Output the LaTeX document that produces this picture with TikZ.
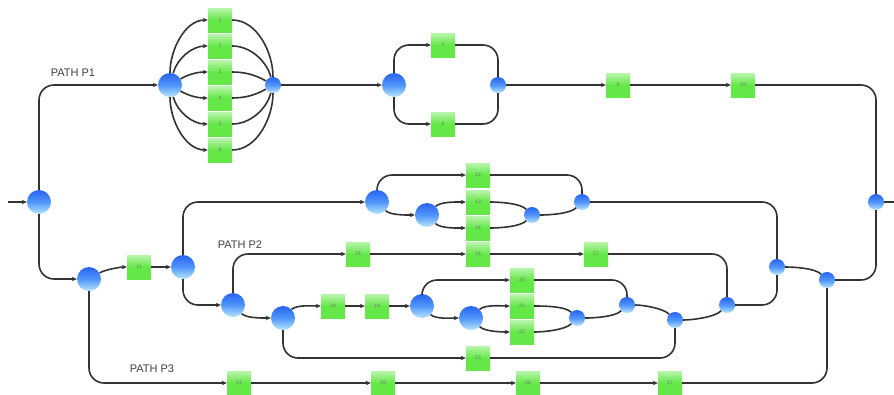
\documentclass[tikz,border=0pt]{standalone}
\usepackage{fontspec}
\setsansfont{Liberation Sans}
\usetikzlibrary{arrows.meta}

\begin{document}
\begin{tikzpicture}[x=1pt,y=1pt,
	splitnode/.style={circle,minimum size=24pt,inner sep=0pt,top color=ballTop,bottom color=ballBot,middle color=ballMid},
	joinnode/.style={splitnode,minimum size=16pt},
	tasknode/.style={rectangle,minimum width=24pt,minimum height=24pt,inner sep=0pt,top color=taskTop,bottom color=taskCol,middle color=taskCol,text=black!55,font=\sffamily\fontsize{5}{5}\selectfont},
	pathlabel/.style={font=\sffamily\fontsize{11}{11}\selectfont,text=black!75},
	flow/.style={line width=1.6pt,draw=black!80,rounded corners=15pt},
	arr/.style={flow,-{Stealth[length=5pt,width=4.5pt]}},
	up/.style={out=45,in=180,looseness=0.6},
	down/.style={out=-45,in=180,looseness=0.6},
	upin/.style={out=0,in=-135,looseness=0.6},
	downin/.style={out=0,in=135,looseness=0.6}]
			\definecolor{ballTop}{RGB}{40,100,240}
			\definecolor{ballMid}{RGB}{80,150,250}
			\definecolor{ballBot}{RGB}{185,230,255}
			\definecolor{taskCol}{RGB}{100,232,72}
			\colorlet{taskTop}{taskCol!45!white}
			
			\useasboundingbox (0,0) rectangle (894,-394);
			
			\coordinate (inA) at (8,-202);
			\coordinate (outZ) at (894,-202);
			
			\node[splitnode] (sA) at (39,-202) {};
			\node[splitnode] (s1) at (170,-85) {};
			\node[joinnode] (j1) at (273,-85) {};
			\node[splitnode] (s2) at (394,-85) {};
			\node[joinnode] (j2) at (498,-85) {};
			\node[joinnode] (jZ) at (876,-202) {};
			
			\node[splitnode] (s3) at (89,-279) {};
			\node[splitnode] (s4) at (183,-267) {};
			\node[splitnode] (s5) at (377,-202) {};
			\node[splitnode] (s6) at (427,-215) {};
			\node[joinnode] (j6) at (532,-215) {};
			\node[joinnode] (j5) at (582,-202) {};
			\node[splitnode] (s7) at (233,-305) {};
			\node[splitnode] (s8) at (283,-318) {};
			\node[splitnode] (s9) at (422,-306) {};
			\node[splitnode] (s10) at (471,-318) {};
			\node[joinnode] (j11) at (577,-318) {};
			\node[joinnode] (j10) at (627,-305) {};
			\node[joinnode] (j12) at (675,-320) {};
			\node[joinnode] (j8) at (727,-305) {};
			\node[joinnode] (j7) at (777,-267) {};
			\node[joinnode] (j13) at (827,-280) {};
			
			\foreach \i/\y in {1/20,2/46,3/72,4/98,5/124,6/150}
				\node[tasknode] (t\i) at (220,-\y) {\i};
			\node[tasknode] (t7) at (443,-45) {7};
			\node[tasknode] (t8) at (443,-124) {8};
			\node[tasknode] (t9) at (618,-85) {9};
			\node[tasknode] (t10) at (743,-85) {10};
			\node[tasknode] (t11) at (139,-267) {11};
			\node[tasknode] (t12) at (478,-175) {12};
			\node[tasknode] (t13) at (478,-202) {13};
			\node[tasknode] (t14) at (478,-228) {14};
			\node[tasknode] (t15) at (358,-254) {15};
			\node[tasknode] (t16) at (478,-254) {16};
			\node[tasknode] (t17) at (596,-254) {17};
			\node[tasknode] (t18) at (333,-306) {18};
			\node[tasknode] (t19) at (377,-306) {19};
			\node[tasknode] (t20) at (522,-280) {20};
			\node[tasknode] (t21) at (522,-306) {21};
			\node[tasknode] (t22) at (522,-332) {22};
			\node[tasknode] (t23) at (478,-358) {23};
			\node[tasknode] (t24) at (239,-383) {24};
			\node[tasknode] (t25) at (383,-383) {25};
			\node[tasknode] (t26) at (528,-383) {26};
			\node[tasknode] (t27) at (670,-383) {27};
			
			\node[pathlabel] (lblP1) at (73,-73) {PATH P1};
			\node[pathlabel] (lblP2) at (240,-245) {PATH P2};
			\node[pathlabel] (lblP3) at (152,-369) {PATH P3};
			
			\draw[arr] (inA) -- (sA);
			\draw[arr] (sA) |- (s1);
			\draw[arr] (sA) |- (s3);
			
			\foreach \i/\a in {1/90,2/75,3/30,4/-30,5/-75,6/-90}{
				\draw[arr] (s1) to[out=\a,in=180,looseness=0.9] (t\i);
				\draw[flow] (t\i) to[out=0,in=180-\a,looseness=0.9] (j1);
			}
			\draw[arr] (j1) -- (s2);
			\draw[arr] (s2) |- (t7);
			\draw[arr] (s2) |- (t8);
			\draw[flow] (t7) -| (j2);
			\draw[flow] (t8) -| (j2);
			\draw[arr] (j2) -- (t9);
			\draw[arr] (t9) -- (t10);
			\draw[flow] (t10) -| (jZ);
			\draw[flow] (jZ) -- (outZ);
			
			\draw[arr] (s3) to[out=30,in=180,looseness=0.6] (t11);
			\draw[arr] (t11) -- (s4);
			\draw[arr] (s4) |- (s5);
			\draw[arr] (s4) |- (s7);
			\draw[arr] (s5) |- (t12);
			\draw[arr] (s5) to[down] (s6);
			\draw[arr] (s6) to[up] (t13);
			\draw[arr] (s6) to[down] (t14);
			\draw[flow] (t13) to[downin] (j6);
			\draw[flow] (t14) to[upin] (j6);
			\draw[flow] (t12) -| (j5);
			\draw[flow] (j6) to[upin] (j5);
			\draw[flow] (j5) -| (j7);
			
			\draw[arr] (s7) |- (t15);
			\draw[arr] (t15) -- (t16);
			\draw[arr] (t16) -- (t17);
			\draw[flow] (t17) -| (j8);
			\draw[arr] (s7) to[down] (s8);
			\draw[arr] (s8) to[up] (t18);
			\draw[arr] (t18) -- (t19);
			\draw[arr] (t19) -- (s9);
			\draw[arr] (s8) |- (t23);
			\draw[arr] (s9) |- (t20);
			\draw[arr] (s9) to[down] (s10);
			\draw[arr] (s10) to[up] (t21);
			\draw[arr] (s10) to[down] (t22);
			\draw[flow] (t21) to[downin] (j11);
			\draw[flow] (t22) to[upin] (j11);
			\draw[flow] (t20) -| (j10);
			\draw[flow] (j11) to[upin] (j10);
			\draw[flow] (j10) to[downin] (j12);
			\draw[flow] (t23) -| (j12);
			\draw[flow] (j12) to[upin] (j8);
			\draw[flow] (j8) -| (j7);
			\draw[flow] (j7) to[downin] (j13);
			
			\draw[arr] (s3) |- (t24);
			\draw[arr] (t24) -- (t25);
			\draw[arr] (t25) -- (t26);
			\draw[arr] (t26) -- (t27);
			\draw[flow] (t27) -| (j13);
			\draw[flow] (j13) -| (jZ);
		\end{tikzpicture}
\end{document}
